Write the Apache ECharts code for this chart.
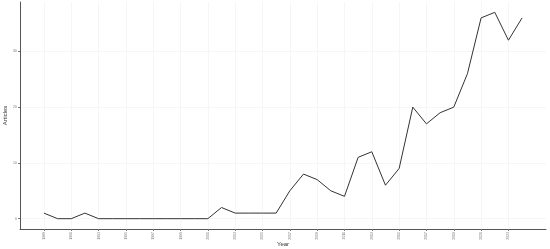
<!DOCTYPE html>
<html>
<head>
<meta charset="utf-8">
<script src="https://cdn.jsdelivr.net/npm/echarts@6/dist/echarts.min.js"></script>
<style>
html,body{margin:0;padding:0;background:#fff;}
#chart{width:550px;height:249px;}
</style>
</head>
<body>
<div id="chart"></div>
<script>
const years = [1989,1990,1991,1992,1993,1994,1995,1996,1997,1998,1999,2000,2001,2002,2003,2004,2005,2006,2007,2008,2009,2010,2011,2012,2013,2014,2015,2016,2017,2018,2019,2020,2021,2022,2023,2024];
const articles = [1,0,0,1,0,0,0,0,0,0,0,0,0,2,1,1,1,1,5,8,7,5,4,11,12,6,9,20,17,19,20,26,36,37,32,36];
const xTickLabels = [1989,1991,1993,1995,1997,1999,2001,2003,2005,2007,2009,2011,2013,2015,2017,2019,2021,2023];
const yTickLabels = [0,10,20,30];

const chart = echarts.init(document.getElementById('chart'));
const xSpan = years[years.length-1] - years[0];
const yMaxV = Math.max(...articles);
chart.setOption({
  animation: false,
  grid: {left: 20, right: 4, top: 2, bottom: 20, containLabel: false, outerBoundsMode: 'none'},
  xAxis: {
    type: 'value',
    min: years[0] - xSpan*0.05,
    max: years[years.length-1] + xSpan*0.05,
    name: 'Year',
    nameLocation: 'middle',
    nameGap: 12,
    nameMoveOverlap: false,
    nameTextStyle: {fontSize: 6, color: '#333', fontFamily: 'Liberation Sans'},
    axisLine: {show: true, onZero: false, lineStyle: {color: '#555', width: 1}},
    axisTick: {show: true, length: 2, customValues: xTickLabels, lineStyle: {color: '#777'}},
    axisLabel: {customValues: xTickLabels, rotate: 90, fontSize: 3.5, color: '#777', margin: 3, formatter: v => String(v)},
    splitLine: {show: true, lineStyle: {color: '#f0f0f0', width: 0.6}}
  },
  yAxis: {
    type: 'value',
    min: 0 - yMaxV*0.05,
    max: yMaxV*1.05,
    name: 'Articles',
    nameLocation: 'middle',
    nameGap: 12,
    nameRotate: 90,
    nameMoveOverlap: false,
    nameTextStyle: {fontSize: 6, color: '#333', fontFamily: 'Liberation Sans'},
    axisLine: {show: true, onZero: false, lineStyle: {color: '#555', width: 1}},
    axisTick: {show: true, length: 2, customValues: yTickLabels, lineStyle: {color: '#777'}},
    axisLabel: {customValues: yTickLabels, fontSize: 3.5, color: '#777', margin: 3},
    splitLine: {show: true, lineStyle: {color: '#f0f0f0', width: 0.6}}
  },
  series: [{
    type: 'line',
    data: years.map((y,i)=>[y, articles[i]]),
    showSymbol: false,
    lineStyle: {color: '#333', width: 1}
  }]
});
</script>
</body>
</html>
